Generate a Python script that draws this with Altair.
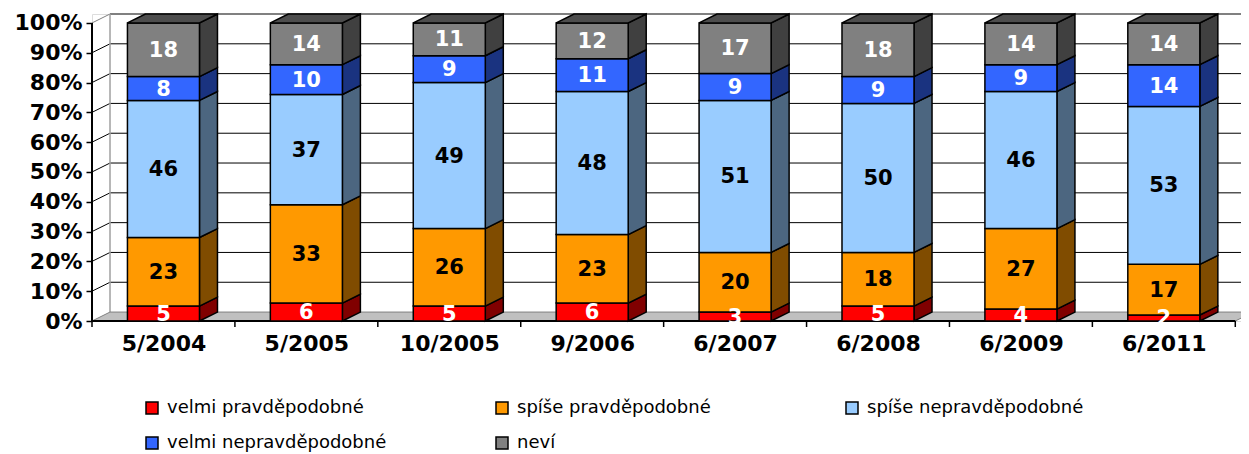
import json
import altair as alt
import pandas as pd

categories = ["5/2004", "5/2005", "10/2005", "9/2006", "6/2007", "6/2008", "6/2009", "6/2011"]
series = ["velmi pravděpodobné", "spíše pravděpodobné", "spíše nepravděpodobné",
          "velmi nepravděpodobné", "neví"]
velmi_pravdepodobne = [5, 6, 5, 6, 3, 5, 4, 2]
spise_pravdepodobne = [23, 33, 26, 23, 20, 18, 27, 17]
spise_nepravdepodobne = [46, 37, 49, 48, 51, 50, 46, 53]
velmi_nepravdepodobne = [8, 10, 9, 11, 9, 9, 9, 14]
nevi = [18, 14, 11, 12, 17, 18, 14, 14]
y_ticks = list(range(0, 101, 10))

front_colors = ["#FF0000", "#FF9900", "#99CCFF", "#3366FF", "#808080"]
side_colors = ["#800000", "#804C00", "#4C6680", "#1A3380", "#404040"]
label_colors = ["white", "black", "black", "white", "white"]
top_color = "#4D4D4D"

HW = 0.252   # half bar width (category units)
DX = 0.126   # 3D depth, x (category units)
DY = 3.0     # 3D depth, y (percent units)
XMAX = 8.04
YMAX = 103
W, H = 1149, 307
FONT = "DejaVu Sans"

values = [velmi_pravdepodobne, spise_pravdepodobne, spise_nepravdepodobne,
          velmi_nepravdepodobne, nevi]

rows, side_rows, top_rows = [], [], []
for i, cat in enumerate(categories):
    c = i + 0.5
    base = 0
    for s, (name, vals) in enumerate(zip(series, values)):
        v = vals[i]
        y0, y1 = base, base + v
        base = y1
        rows.append(dict(cat=cat, series=name, value=v, xl=c - HW, xr=c + HW, xc=c,
                         y0=y0, y1=y1, ym=(y0 + y1) / 2, lab=label_colors[s]))
        seg = f"{i}-{s}"
        side_rows.append(dict(seg=seg, x=c + HW, ya=y0, yb=y1, col=side_colors[s]))
        side_rows.append(dict(seg=seg, x=c + HW + DX, ya=y0 + DY, yb=y1 + DY, col=side_colors[s]))
    top_rows.append(dict(cat=cat, y=base, xa=c - HW, xb=c + HW))
    top_rows.append(dict(cat=cat, y=base + DY, xa=c - HW + DX, xb=c + HW + DX))

df = pd.DataFrame(rows)
side_df = pd.DataFrame(side_rows)
top_df = pd.DataFrame(top_rows)

ncat = len(categories)
floor_df = pd.DataFrame([dict(y=0, xa=0, xb=ncat), dict(y=DY, xa=DX, xb=ncat + DX)])

grid_df = pd.DataFrame([dict(p=p, yb=p + DY, gx0=DX, gx1=XMAX, x0=0,
                             col=("#808080" if p == 100 else "black"),
                             w=(2 if p == 100 else 1)) for p in y_ticks if p > 0])
wall_df = pd.DataFrame([dict(x=DX, ya=DY, yb=100 + DY)])
xline_df = pd.DataFrame([dict(x0=0, x1=ncat, y=0)])
yline_df = pd.DataFrame([dict(x=0, y0=0, y1=100)])
xtick_df = pd.DataFrame([dict(x=i) for i in range(ncat + 1)])

X = alt.Scale(domain=[0, XMAX], nice=False, zero=False)
Y = alt.Scale(domain=[0, YMAX], nice=False, zero=False)

label_expr = json.dumps(categories) + "[floor(datum.value)]"
XA = alt.Axis(values=[i + 0.5 for i in range(ncat)], labelExpr=label_expr,
              tickSize=0, domain=False, grid=False, labelFont=FONT,
              labelFontSize=22, labelFontWeight="bold", labelColor="black",
              labelPadding=12, labelAngle=0, labelOverlap=False,
              labelFlush=False, labelBound=False, title=None)
YA = alt.Axis(values=y_ticks, labelExpr="datum.value + '%'", tickSize=6,
              tickColor="black", tickWidth=1.5, domain=False, grid=False,
              labelFont=FONT, labelFontSize=22, labelFontWeight="bold",
              labelColor="black", labelPadding=4, labelOverlap=False,
              labelFlush=False, title=None)


def xq(field):
    return alt.X(field, scale=X, axis=XA, title=None)


def yq(field):
    return alt.Y(field, scale=Y, axis=YA, title=None)


grid_h = alt.Chart(grid_df).mark_rule().encode(
    x=xq("gx0:Q"), x2="gx1:Q", y=yq("yb:Q"),
    color=alt.Color("col:N", scale=None), strokeWidth=alt.StrokeWidth("w:Q", scale=None))
grid_d = alt.Chart(grid_df).mark_rule().encode(
    x=xq("x0:Q"), x2="gx0:Q", y=yq("p:Q"), y2="yb:Q",
    color=alt.Color("col:N", scale=None))
wall = alt.Chart(wall_df).mark_rule(color="#A0A0A0", strokeWidth=1.5).encode(
    x=xq("x:Q"), y=yq("ya:Q"), y2="yb:Q")
floor = alt.Chart(floor_df).mark_area(orient="horizontal", fill="#C0C0C0", stroke="#808080",
                                       strokeWidth=1, clip=True).encode(
    y=yq("y:Q"), x=xq("xa:Q"), x2="xb:Q")
xline = alt.Chart(xline_df).mark_rule(color="black", strokeWidth=2).encode(
    x=xq("x0:Q"), x2="x1:Q", y=yq("y:Q"))
sides = alt.Chart(side_df).mark_area(stroke="black", strokeWidth=1.5).encode(
    x=xq("x:Q"), y=yq("ya:Q"), y2="yb:Q",
    detail="seg:N",
    fill=alt.Fill("col:N", scale=None))
front = alt.Chart(df).mark_rect(stroke="black", strokeWidth=1.5).encode(
    x=xq("xl:Q"), x2="xr:Q", y=yq("y0:Q"), y2="y1:Q",
    color=alt.Color("series:N", scale=alt.Scale(domain=series, range=front_colors),
                    sort=series,
                    legend=alt.Legend(orient="none", legendX=51, legendY=385,
                                      direction="horizontal", columns=3, title=None,
                                      symbolType="square", symbolSize=144,
                                      symbolStrokeColor="black", symbolStrokeWidth=1.5,
                                      labelFont=FONT, labelFontSize=18, labelColor="black",
                                      labelLimit=400, columnPadding=106, rowPadding=17,
                                      gridAlign="all", labelOffset=6)))
tops = alt.Chart(top_df).mark_area(orient="horizontal", fill=top_color, stroke="black",
                                    strokeWidth=1.5).encode(
    y=yq("y:Q"), x=xq("xa:Q"), x2="xb:Q", detail="cat:N")
labels = alt.Chart(df).mark_text(font=FONT, fontSize=21, fontWeight="bold",
                                 baseline="middle", align="center", dy=1).encode(
    x=xq("xc:Q"), y=yq("ym:Q"),
    text="value:Q",
    color=alt.Color("lab:N", scale=None))
yline = alt.Chart(yline_df).mark_rule(color="black", strokeWidth=2).encode(
    x=xq("x:Q"), y=yq("y0:Q"), y2="y1:Q")
xticks = alt.Chart(xtick_df).mark_rule(color="black", strokeWidth=1.5).encode(
    x=xq("x:Q"), y=alt.value(H), y2=alt.value(H + 6))

chart = alt.layer(grid_h, grid_d, wall, floor, xline, sides, front, tops, labels, yline,
                  xticks).properties(
    width=W, height=H,
    padding={"left": 84, "top": 6, "right": 0, "bottom": 133},
    autosize=alt.AutoSizeParams(type="none"),
).configure_view(stroke=None).configure(font=FONT)

chart.save("out.html", embed_options={"renderer": "svg", "actions": False})
